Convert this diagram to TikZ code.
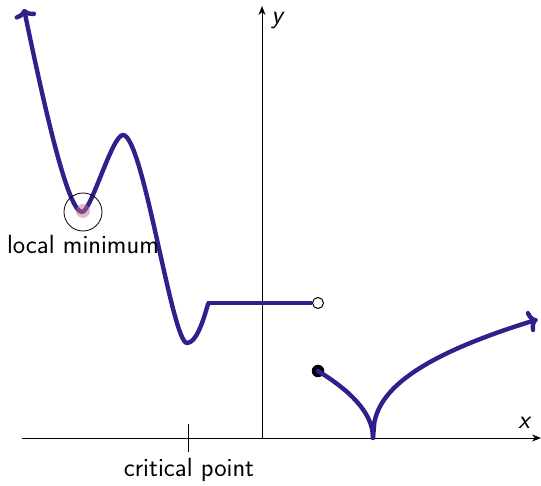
\documentclass[tikz,border=0pt]{standalone}
\usetikzlibrary{arrows.meta}
\definecolor{curvecol}{RGB}{48,32,140}
\definecolor{pinkdot}{RGB}{205,110,145}
\tikzset{curvetip/.tip={To[length=9pt,width=22pt]}}
\begin{document}
\begin{tikzpicture}[x=1pt,y=-1pt,
  curve/.style={draw=curvecol,line width=4.4pt,line cap=round,line join=round},
  axis/.style={draw=black,line width=1pt,-{Stealth[length=9pt,width=7pt]}},
  lab/.style={font=\fontsize{26.3}{30}\selectfont\sffamily},
  itlab/.style={font=\fontsize{26.3}{30}\selectfont\sffamily\itshape},
  opendot/.style={circle,draw=black,fill=white,line width=1pt,inner sep=0pt,minimum size=11pt},
  fulldot/.style={circle,fill=black,inner sep=0pt,minimum size=12.5pt}]
\useasboundingbox (0,0) rectangle (541,486);
% axes
\coordinate (xs) at (22,438);
\coordinate (xe) at (541,438);
\coordinate (ys) at (262,438);
\coordinate (ye) at (262,6);
\draw[axis] (xs) -- (xe);
\draw[axis] (ys) -- (ye);
\node[itlab] (ylab) at (277,21) {y};
\node[itlab] (xlab) at (524,423) {x};
% critical point tick
\coordinate (tt) at (188,424);
\coordinate (tb) at (188,452);
\draw[line width=1pt] (tt) -- (tb);
\node[lab] (crit) at (189,470) {critical point};
% left curve
\coordinate (c0) at (24,9);
\coordinate (m1) at (82,212);
\coordinate (mx) at (123,135);
\coordinate (m2) at (187,343);
\coordinate (ce) at (208,304);
\draw[curve,curvetip-] (c0) .. controls (45,110) and (68,212) .. (m1)
  .. controls (91,212) and (112,135) .. (mx)
  .. controls (143,135) and (172,343) .. (m2)
  .. controls (196,343) and (203,322) .. (ce);
% horizontal piece
\coordinate (hs) at (207,303);
\node[opendot] (open) at (318,303) {};
\draw[curve,line cap=butt] (hs) -- (open.west);
% right part
\node[fulldot] (closed) at (318,371) {};
\draw[curve] plot[domain=318:373,samples=80] (\x,{438-9.03*sqrt(373-\x)});
\draw[curve,-curvetip] plot[domain=373:537,samples=120] (\x,{438-13.9*pow(\x-373,0.42)});
% local minimum
\node[circle,fill=pinkdot,fill opacity=0.5,inner sep=0pt,minimum size=14pt] (pink) at (83,211) {};
\node[circle,draw=black,line width=0.8pt,inner sep=0pt,minimum size=38pt] (ring) at (83,212) {};
\node[lab] (lmin) at (83,244) {local minimum};
\end{tikzpicture}
\end{document}
